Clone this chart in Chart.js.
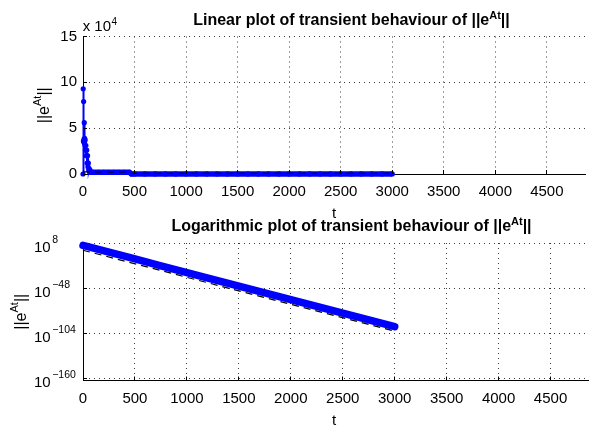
<!DOCTYPE html>
<html><head><meta charset="utf-8">
<script src="https://cdn.jsdelivr.net/npm/chart.js@4.4.0/dist/chart.umd.min.js"></script>
<style>
html,body{margin:0;padding:0;background:#fff;overflow:hidden}
#wrap{position:relative;width:589px;height:426px;background:#fff}
canvas{position:absolute;left:0}
</style></head><body>
<div id="wrap">
<canvas id="c1" width="589" height="230" style="top:0px"></canvas>
<canvas id="c2" width="589" height="226" style="top:200px"></canvas>
</div>
<script>
// ---------- data ----------
const xTickValues = [0, 500, 1000, 1500, 2000, 2500, 3000, 3500, 4000, 4500];
const linTickValues = [0, 50000, 100000, 150000];
const logTickValues = [1e8, 1e-48, 1e-104, 1e-160];

const tLinear = [0, 2, 4, 6, 8, 10, 12, 14, 16, 18, 21, 24, 28, 32, 36, 40, 44, 48, 52, 56, 60, 65, 70,
  100, 150, 200, 250, 300, 350, 400, 450, 470,
  500, 600, 700, 800, 900, 1000, 1100, 1200, 1300, 1400, 1500, 1600, 1700, 1800, 1900,
  2000, 2100, 2200, 2300, 2400, 2500, 2600, 2700, 2800, 2900, 3000];
const normLinear = [1, 93000, 36000, 79000, 35000, 38000, 56000, 34000, 39000, 32000, 37000, 26000, 31000,
  20000, 26000, 12000, 20000, 8000, 12000, 4000, 6000, 2500, 2000,
  1800, 1800, 1800, 1800, 1800, 1800, 1800, 1800, 50,
  50, 50, 50, 50, 50, 50, 50, 50, 50, 50, 50, 50, 50, 50, 50,
  50, 50, 50, 50, 50, 50, 50, 50, 50, 50, 50];
const tLinearBound = [0, 450, 470, 3000];
const normLinearBound = [2400, 2400, 600, 600];

const tLog = [0, 250, 500, 750, 1000, 1250, 1500, 1750, 2000, 2250, 2500, 2750, 3000];
const normLog = [1e5, 4e-4, 1.3e-12, 5e-21, 2e-29, 8e-38, 2.5e-46, 1e-54, 4e-63, 1.6e-71, 5e-80, 2e-88, 8e-97];
const tLogBound = [0, 1500, 3000];
const normLogBound = [0.1, 3e-52, 3e-102];

// ---------- styling ----------
const FONT = '"Liberation Sans", Arial, Helvetica, sans-serif';
Chart.defaults.font.family = FONT;
Chart.defaults.font.size = 15;
Chart.defaults.color = '#000';
const GRID = '#3a3a3a';
const BLUE = '#0000ff';

function pts(xs, ys) { return xs.map((x, i) => ({x: x, y: ys[i]})); }

function drawRich(ctx, parts, x, y, align) {
  let w = 0;
  parts.forEach(p => { ctx.font = p.f; p.w = ctx.measureText(p.t).width + (p.gap || 0); w += p.w; });
  let cx = align === 'center' ? x - w / 2 : (align === 'right' ? x - w : x);
  ctx.textAlign = 'left';
  ctx.textBaseline = 'alphabetic';
  parts.forEach(p => { ctx.font = p.f; ctx.fillText(p.t, cx + (p.gap || 0), y + (p.dy || 0)); cx += p.w; });
}
const F = (s, b) => (b ? 'bold ' : '') + s + 'px ' + FONT;

function xScale(h) {
  return {
    type: 'linear', min: 0, max: 4870,
    afterBuildTicks: s => { s.ticks = xTickValues.map(v => ({value: v})); },
    afterFit: s => { s.height = h; },
    grid: { color: GRID, lineWidth: 1, drawTicks: false },
    border: { color: '#000', width: 1, dash: [1, 4] },
    ticks: { padding: 9, maxRotation: 0, autoSkip: false, font: {size: 15}, callback: v => String(v) }
  };
}

function textPlugin(cfg) {
  return {
    id: 'texts',
    afterDraw(chart) {
      const ctx = chart.ctx;
      const a = chart.chartArea;
      const xs = chart.scales.x, ys = chart.scales.y;
      ctx.save();
      ctx.fillStyle = '#000';
      ctx.strokeStyle = '#000';
      ctx.lineWidth = 1;
      ctx.beginPath();
      xs.ticks.forEach(t => {
        const px = Math.round(xs.getPixelForValue(t.value) - 0.5) + 0.5;
        ctx.moveTo(px, a.bottom); ctx.lineTo(px, a.bottom - 4);
      });
      ys.ticks.forEach(t => {
        const py = Math.round(ys.getPixelForValue(t.value) - 0.5) + 0.5;
        ctx.moveTo(a.left, py); ctx.lineTo(a.left + 4, py);
      });
      ctx.stroke();
      drawRich(ctx, cfg.title, 351.5, cfg.titleY, 'center');
      drawRich(ctx, [{t: 't', f: F(15)}], 334, cfg.xlabelY, 'center');
      ctx.save();
      ctx.translate(cfg.ylabelX, (a.top + a.bottom) / 2);
      ctx.rotate(-Math.PI / 2);
      drawRich(ctx, [{t: '||e', f: F(16)}, {t: 'At', f: F(11), dy: -8}, {t: '||', f: F(16)}], 0, 0, 'center');
      ctx.restore();
      if (cfg.extra) cfg.extra(chart, ctx);
      ctx.restore();
    }
  };
}

// ---------- top: linear ----------
new Chart(document.getElementById('c1'), {
  type: 'line',
  data: { datasets: [
    { data: pts(tLinearBound, normLinearBound), borderColor: '#000', borderWidth: 1.2, borderDash: [7, 5],
      pointRadius: 0, fill: false, order: 0, clip: false },
    { data: pts(tLinear, normLinear), borderColor: BLUE, backgroundColor: BLUE, borderWidth: 2,
      pointRadius: 2.6, pointBorderWidth: 0, pointBackgroundColor: BLUE, fill: false, order: 1, clip: false,
      segment: { borderWidth: c => (c.p0.parsed.x >= 60 ? 5.5 : 2) } }
  ]},
  options: {
    responsive: false, animation: false, events: [],
    layout: { padding: { top: 36.5, left: 0, right: 0, bottom: 0 } },
    plugins: { legend: { display: false }, title: { display: false }, tooltip: { enabled: false } },
    scales: {
      x: xScale(56),
      y: {
        type: 'linear', min: 0, max: 150000,
        afterBuildTicks: s => { s.ticks = linTickValues.map(v => ({value: v})); },
        afterFit: s => { s.width = 83; },
        grid: { color: GRID, lineWidth: 1, drawTicks: false },
        border: { color: '#000', width: 1, dash: [1, 4] },
        ticks: { padding: 6, font: {size: 15}, callback: v => String(v / 10000) }
      }
    }
  },
  plugins: [textPlugin({
    title: [{t: 'Linear plot of transient behaviour of ||e', f: F(16, true)}, {t: 'At', f: F(11, true), dy: -6}, {t: '||', f: F(16, true)}],
    titleY: 25, xlabelY: 218, ylabelX: 48.6,
    extra: (chart, ctx) => {
      drawRich(ctx, [{t: 'x 10', f: F(15)}, {t: '4', f: F(10), dy: -6, gap: 0.5}], 82.7, 30.7, 'left');
    }
  })]
});

// ---------- bottom: logarithmic ----------
new Chart(document.getElementById('c2'), {
  type: 'line',
  data: { datasets: [
    { data: pts(tLogBound, normLogBound), borderColor: '#000', borderWidth: 1.2, borderDash: [7, 5],
      pointRadius: 0, fill: false, order: 0, clip: false },
    { data: pts(tLog, normLog), borderColor: BLUE, borderWidth: 7.5, borderCapStyle: 'round',
      pointRadius: 0, fill: false, order: 1, clip: false }
  ]},
  options: {
    responsive: false, animation: false, events: [],
    layout: { padding: { top: 43, left: 0, right: 0, bottom: 0 } },
    plugins: { legend: { display: false }, title: { display: false }, tooltip: { enabled: false } },
    scales: {
      x: xScale(45.5),
      y: {
        type: 'logarithmic', min: 1e-163, max: 1e8,
        afterBuildTicks: s => { s.ticks = logTickValues.map(v => ({value: v})); },
        afterFit: s => { s.width = 83; },
        grid: { color: GRID, lineWidth: 1, drawTicks: false },
        border: { color: '#000', width: 1, dash: [1, 4] },
        ticks: { display: false }
      }
    }
  },
  plugins: [textPlugin({
    title: [{t: 'Logarithmic plot of transient behaviour of ||e', f: F(16, true)}, {t: 'At', f: F(11, true), dy: -6}, {t: '||', f: F(16, true)}],
    titleY: 30.7, xlabelY: 225, ylabelX: 26,
    extra: (chart, ctx) => {
      const ys = chart.scales.y;
      logTickValues.forEach(v => {
        const py = ys.getPixelForValue(v);
        const e = Math.round(Math.log10(v));
        const expTxt = (e < 0 ? '\u2212' : '') + Math.abs(e);
        drawRich(ctx, [{t: '10', f: F(15)}, {t: expTxt, f: F(10.5), dy: -9, gap: 1.5}], 34, py + 9, 'left');
      });
    }
  })]
});
</script>
</body></html>
